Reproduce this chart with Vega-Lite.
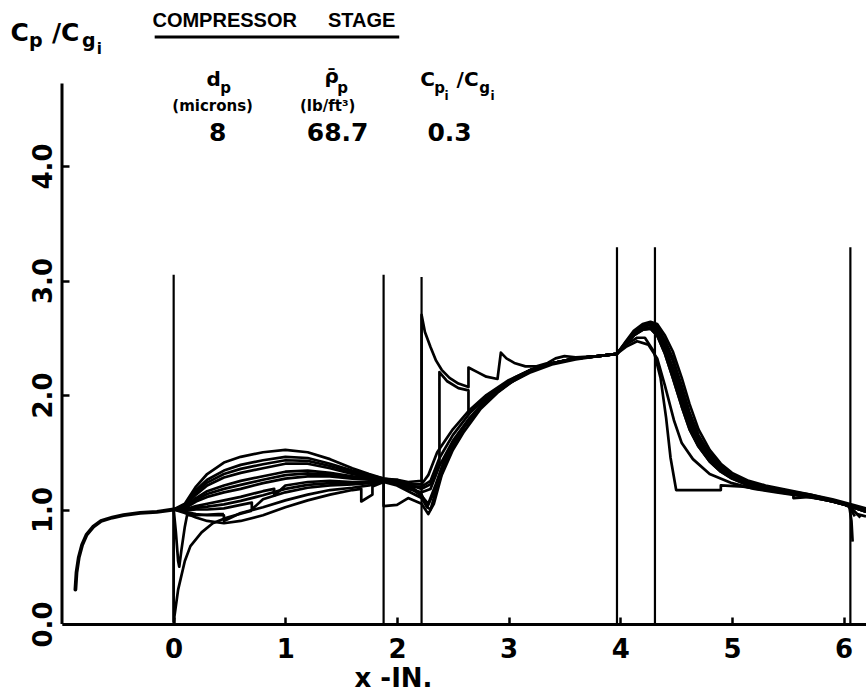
{
  "$schema": "https://vega.github.io/schema/vega-lite/v6.json",
  "width": 804,
  "height": 624,
  "autosize": {"type": "none"},
  "padding": {"left": 62, "top": 0, "right": 0, "bottom": 69},
  "background": "white",
  "config": {"view": {"stroke": null}, "font": "DejaVu Sans"},
  "datasets": {
    "stations": [
      {"x": 0, "base": 0, "top": 3.05},
      {"x": 1.88, "base": 0, "top": 3.05},
      {"x": 2.22, "base": 0, "top": 3.03},
      {"x": 3.97, "base": 0, "top": 3.29},
      {"x": 4.31, "base": 0, "top": 3.29},
      {"x": 6.06, "base": 0, "top": 3.29}
    ],
    "yaxis": [{"x": -1, "base": 0, "top": 4.72}],
    "underline": [{"x1": -0.17, "x2": 2.02, "y": 5.127}],
    "inlet": [
      {"x": -0.88, "y": 0.3}, {"x": -0.87, "y": 0.45}, {"x": -0.85, "y": 0.58}, {"x": -0.82, "y": 0.69},
      {"x": -0.78, "y": 0.78}, {"x": -0.72, "y": 0.85}, {"x": -0.65, "y": 0.9}, {"x": -0.55, "y": 0.93},
      {"x": -0.45, "y": 0.95}, {"x": -0.3, "y": 0.97}, {"x": -0.15, "y": 0.98}, {"x": 0, "y": 1.0}
    ],
    "curves": [
      {"s": "f0", "x": 0, "y": 1.0}, {"s": "f0", "x": 0.1, "y": 0.97}, {"s": "f0", "x": 0.2, "y": 0.93}, {"s": "f0", "x": 0.3, "y": 0.9},
      {"s": "f0", "x": 0.45, "y": 0.88}, {"s": "f0", "x": 0.6, "y": 0.9}, {"s": "f0", "x": 0.8, "y": 0.95}, {"s": "f0", "x": 1.0, "y": 1.02},
      {"s": "f0", "x": 1.2, "y": 1.08}, {"s": "f0", "x": 1.4, "y": 1.13}, {"s": "f0", "x": 1.6, "y": 1.17}, {"s": "f0", "x": 1.68, "y": 1.18},
      {"s": "f0", "x": 1.68, "y": 1.07}, {"s": "f0", "x": 1.78, "y": 1.13}, {"s": "f0", "x": 1.78, "y": 1.2}, {"s": "f0", "x": 1.88, "y": 1.24},
      {"s": "f0", "x": 1.88, "y": 1.03}, {"s": "f0", "x": 2.0, "y": 1.04}, {"s": "f0", "x": 2.1, "y": 1.1}, {"s": "f0", "x": 2.22, "y": 1.05},
      {"s": "f0", "x": 2.28, "y": 0.96}, {"s": "f0", "x": 2.33, "y": 1.05}, {"s": "f0", "x": 2.4, "y": 1.3}, {"s": "f0", "x": 2.5, "y": 1.52},
      {"s": "f0", "x": 2.6, "y": 1.68}, {"s": "f0", "x": 2.75, "y": 1.88}, {"s": "f0", "x": 2.9, "y": 2.02}, {"s": "f0", "x": 3.05, "y": 2.13},
      {"s": "f0", "x": 3.2, "y": 2.21}, {"s": "f0", "x": 3.4, "y": 2.28}, {"s": "f0", "x": 3.6, "y": 2.32}, {"s": "f0", "x": 3.8, "y": 2.34},
      {"s": "f0", "x": 3.97, "y": 2.36}, {"s": "f0", "x": 4.05, "y": 2.45}, {"s": "f0", "x": 4.12, "y": 2.52}, {"s": "f0", "x": 4.2, "y": 2.57},
      {"s": "f0", "x": 4.27, "y": 2.58}, {"s": "f0", "x": 4.33, "y": 2.52}, {"s": "f0", "x": 4.4, "y": 2.36}, {"s": "f0", "x": 4.47, "y": 2.15},
      {"s": "f0", "x": 4.55, "y": 1.9}, {"s": "f0", "x": 4.62, "y": 1.7}, {"s": "f0", "x": 4.7, "y": 1.55}, {"s": "f0", "x": 4.8, "y": 1.42},
      {"s": "f0", "x": 4.9, "y": 1.33}, {"s": "f0", "x": 5.0, "y": 1.27}, {"s": "f0", "x": 5.15, "y": 1.21}, {"s": "f0", "x": 5.3, "y": 1.18},
      {"s": "f0", "x": 5.5, "y": 1.15}, {"s": "f0", "x": 5.7, "y": 1.12}, {"s": "f0", "x": 5.9, "y": 1.07}, {"s": "f0", "x": 6.05, "y": 1.03},
      {"s": "f0", "x": 6.2, "y": 0.98},

      {"s": "f1", "x": 0, "y": 1.0}, {"s": "f1", "x": 0.1, "y": 0.98}, {"s": "f1", "x": 0.2, "y": 0.96}, {"s": "f1", "x": 0.3, "y": 0.95},
      {"s": "f1", "x": 0.45, "y": 0.95}, {"s": "f1", "x": 0.45, "y": 0.9}, {"s": "f1", "x": 0.6, "y": 0.97}, {"s": "f1", "x": 0.8, "y": 1.02},
      {"s": "f1", "x": 1.0, "y": 1.08}, {"s": "f1", "x": 1.2, "y": 1.13}, {"s": "f1", "x": 1.4, "y": 1.17}, {"s": "f1", "x": 1.6, "y": 1.19},
      {"s": "f1", "x": 1.75, "y": 1.21}, {"s": "f1", "x": 1.88, "y": 1.24}, {"s": "f1", "x": 2.0, "y": 1.21}, {"s": "f1", "x": 2.1, "y": 1.16},
      {"s": "f1", "x": 2.22, "y": 1.1}, {"s": "f1", "x": 2.27, "y": 1.02}, {"s": "f1", "x": 2.33, "y": 1.15}, {"s": "f1", "x": 2.4, "y": 1.36},
      {"s": "f1", "x": 2.5, "y": 1.56}, {"s": "f1", "x": 2.6, "y": 1.72}, {"s": "f1", "x": 2.75, "y": 1.9}, {"s": "f1", "x": 2.9, "y": 2.03},
      {"s": "f1", "x": 3.05, "y": 2.14}, {"s": "f1", "x": 3.2, "y": 2.22}, {"s": "f1", "x": 3.4, "y": 2.28}, {"s": "f1", "x": 3.6, "y": 2.32},
      {"s": "f1", "x": 3.8, "y": 2.34}, {"s": "f1", "x": 3.97, "y": 2.36}, {"s": "f1", "x": 4.05, "y": 2.46}, {"s": "f1", "x": 4.12, "y": 2.54},
      {"s": "f1", "x": 4.2, "y": 2.6}, {"s": "f1", "x": 4.27, "y": 2.62}, {"s": "f1", "x": 4.33, "y": 2.58}, {"s": "f1", "x": 4.4, "y": 2.45},
      {"s": "f1", "x": 4.47, "y": 2.3}, {"s": "f1", "x": 4.55, "y": 2.05}, {"s": "f1", "x": 4.62, "y": 1.82}, {"s": "f1", "x": 4.7, "y": 1.62},
      {"s": "f1", "x": 4.8, "y": 1.47}, {"s": "f1", "x": 4.9, "y": 1.36}, {"s": "f1", "x": 5.0, "y": 1.29}, {"s": "f1", "x": 5.15, "y": 1.23},
      {"s": "f1", "x": 5.3, "y": 1.19}, {"s": "f1", "x": 5.5, "y": 1.16}, {"s": "f1", "x": 5.7, "y": 1.12}, {"s": "f1", "x": 5.9, "y": 1.08},
      {"s": "f1", "x": 6.05, "y": 1.03}, {"s": "f1", "x": 6.07, "y": 0.9}, {"s": "f1", "x": 6.08, "y": 0.72},

      {"s": "f2", "x": 0, "y": 1.0}, {"s": "f2", "x": 0.1, "y": 0.99}, {"s": "f2", "x": 0.2, "y": 1.0}, {"s": "f2", "x": 0.3, "y": 1.0},
      {"s": "f2", "x": 0.45, "y": 1.01}, {"s": "f2", "x": 0.6, "y": 1.04}, {"s": "f2", "x": 0.7, "y": 1.06}, {"s": "f2", "x": 0.7, "y": 1.0},
      {"s": "f2", "x": 0.8, "y": 1.09}, {"s": "f2", "x": 1.0, "y": 1.15}, {"s": "f2", "x": 1.2, "y": 1.19}, {"s": "f2", "x": 1.4, "y": 1.21},
      {"s": "f2", "x": 1.6, "y": 1.22}, {"s": "f2", "x": 1.75, "y": 1.23}, {"s": "f2", "x": 1.88, "y": 1.25}, {"s": "f2", "x": 2.0, "y": 1.22},
      {"s": "f2", "x": 2.1, "y": 1.18}, {"s": "f2", "x": 2.22, "y": 1.15}, {"s": "f2", "x": 2.3, "y": 1.18}, {"s": "f2", "x": 2.38, "y": 1.38},
      {"s": "f2", "x": 2.5, "y": 1.6}, {"s": "f2", "x": 2.65, "y": 1.8}, {"s": "f2", "x": 2.8, "y": 1.96}, {"s": "f2", "x": 3.0, "y": 2.1},
      {"s": "f2", "x": 3.2, "y": 2.21}, {"s": "f2", "x": 3.4, "y": 2.28}, {"s": "f2", "x": 3.6, "y": 2.32}, {"s": "f2", "x": 3.8, "y": 2.34},
      {"s": "f2", "x": 3.97, "y": 2.36}, {"s": "f2", "x": 4.05, "y": 2.45}, {"s": "f2", "x": 4.12, "y": 2.52}, {"s": "f2", "x": 4.2, "y": 2.58},
      {"s": "f2", "x": 4.27, "y": 2.59}, {"s": "f2", "x": 4.33, "y": 2.54}, {"s": "f2", "x": 4.4, "y": 2.4}, {"s": "f2", "x": 4.47, "y": 2.2},
      {"s": "f2", "x": 4.55, "y": 1.95}, {"s": "f2", "x": 4.62, "y": 1.74}, {"s": "f2", "x": 4.7, "y": 1.58}, {"s": "f2", "x": 4.8, "y": 1.44},
      {"s": "f2", "x": 4.9, "y": 1.34}, {"s": "f2", "x": 5.0, "y": 1.28}, {"s": "f2", "x": 5.15, "y": 1.22}, {"s": "f2", "x": 5.3, "y": 1.18},
      {"s": "f2", "x": 5.5, "y": 1.15}, {"s": "f2", "x": 5.55, "y": 1.15}, {"s": "f2", "x": 5.55, "y": 1.1}, {"s": "f2", "x": 5.7, "y": 1.11},
      {"s": "f2", "x": 5.9, "y": 1.07}, {"s": "f2", "x": 6.05, "y": 1.03}, {"s": "f2", "x": 6.12, "y": 0.96}, {"s": "f2", "x": 6.2, "y": 0.94},

      {"s": "f3", "x": 0, "y": 1.0}, {"s": "f3", "x": 0.1, "y": 1.0}, {"s": "f3", "x": 0.2, "y": 1.03}, {"s": "f3", "x": 0.3, "y": 1.05},
      {"s": "f3", "x": 0.45, "y": 1.08}, {"s": "f3", "x": 0.6, "y": 1.11}, {"s": "f3", "x": 0.8, "y": 1.16}, {"s": "f3", "x": 0.9, "y": 1.18},
      {"s": "f3", "x": 0.9, "y": 1.12}, {"s": "f3", "x": 1.0, "y": 1.21}, {"s": "f3", "x": 1.2, "y": 1.24}, {"s": "f3", "x": 1.4, "y": 1.25},
      {"s": "f3", "x": 1.6, "y": 1.24}, {"s": "f3", "x": 1.75, "y": 1.24}, {"s": "f3", "x": 1.88, "y": 1.25}, {"s": "f3", "x": 2.0, "y": 1.23},
      {"s": "f3", "x": 2.1, "y": 1.2}, {"s": "f3", "x": 2.22, "y": 1.2}, {"s": "f3", "x": 2.3, "y": 1.25}, {"s": "f3", "x": 2.38, "y": 1.45},
      {"s": "f3", "x": 2.5, "y": 1.65}, {"s": "f3", "x": 2.65, "y": 1.84}, {"s": "f3", "x": 2.8, "y": 1.98}, {"s": "f3", "x": 3.0, "y": 2.12},
      {"s": "f3", "x": 3.2, "y": 2.22}, {"s": "f3", "x": 3.4, "y": 2.28}, {"s": "f3", "x": 3.6, "y": 2.32}, {"s": "f3", "x": 3.8, "y": 2.34},
      {"s": "f3", "x": 3.97, "y": 2.36}, {"s": "f3", "x": 4.05, "y": 2.45}, {"s": "f3", "x": 4.12, "y": 2.52}, {"s": "f3", "x": 4.2, "y": 2.57},
      {"s": "f3", "x": 4.27, "y": 2.58}, {"s": "f3", "x": 4.33, "y": 2.52}, {"s": "f3", "x": 4.4, "y": 2.36}, {"s": "f3", "x": 4.47, "y": 2.15},
      {"s": "f3", "x": 4.55, "y": 1.9}, {"s": "f3", "x": 4.62, "y": 1.7}, {"s": "f3", "x": 4.7, "y": 1.55}, {"s": "f3", "x": 4.8, "y": 1.42},
      {"s": "f3", "x": 4.9, "y": 1.33}, {"s": "f3", "x": 5.0, "y": 1.27}, {"s": "f3", "x": 5.15, "y": 1.21}, {"s": "f3", "x": 5.3, "y": 1.18},
      {"s": "f3", "x": 5.5, "y": 1.15}, {"s": "f3", "x": 5.7, "y": 1.12}, {"s": "f3", "x": 5.9, "y": 1.07}, {"s": "f3", "x": 6.05, "y": 1.03},
      {"s": "f3", "x": 6.2, "y": 0.98},

      {"s": "f4", "x": 0, "y": 1.0}, {"s": "f4", "x": 0.1, "y": 1.01}, {"s": "f4", "x": 0.2, "y": 1.07}, {"s": "f4", "x": 0.3, "y": 1.11},
      {"s": "f4", "x": 0.45, "y": 1.15}, {"s": "f4", "x": 0.6, "y": 1.18}, {"s": "f4", "x": 0.8, "y": 1.23}, {"s": "f4", "x": 1.0, "y": 1.27},
      {"s": "f4", "x": 1.2, "y": 1.29}, {"s": "f4", "x": 1.4, "y": 1.29}, {"s": "f4", "x": 1.6, "y": 1.27}, {"s": "f4", "x": 1.75, "y": 1.26},
      {"s": "f4", "x": 1.88, "y": 1.25}, {"s": "f4", "x": 2.0, "y": 1.24}, {"s": "f4", "x": 2.1, "y": 1.22}, {"s": "f4", "x": 2.22, "y": 1.22},
      {"s": "f4", "x": 2.28, "y": 1.3}, {"s": "f4", "x": 2.36, "y": 1.5}, {"s": "f4", "x": 2.5, "y": 1.7}, {"s": "f4", "x": 2.65, "y": 1.87},
      {"s": "f4", "x": 2.8, "y": 2.0}, {"s": "f4", "x": 3.0, "y": 2.13}, {"s": "f4", "x": 3.2, "y": 2.22}, {"s": "f4", "x": 3.4, "y": 2.28},
      {"s": "f4", "x": 3.6, "y": 2.32}, {"s": "f4", "x": 3.8, "y": 2.34}, {"s": "f4", "x": 3.97, "y": 2.36}, {"s": "f4", "x": 4.05, "y": 2.46},
      {"s": "f4", "x": 4.12, "y": 2.55}, {"s": "f4", "x": 4.2, "y": 2.61}, {"s": "f4", "x": 4.27, "y": 2.63}, {"s": "f4", "x": 4.33, "y": 2.6},
      {"s": "f4", "x": 4.4, "y": 2.48}, {"s": "f4", "x": 4.47, "y": 2.32}, {"s": "f4", "x": 4.55, "y": 2.08}, {"s": "f4", "x": 4.62, "y": 1.85},
      {"s": "f4", "x": 4.7, "y": 1.65}, {"s": "f4", "x": 4.8, "y": 1.49}, {"s": "f4", "x": 4.9, "y": 1.38}, {"s": "f4", "x": 5.0, "y": 1.3},
      {"s": "f4", "x": 5.15, "y": 1.24}, {"s": "f4", "x": 5.3, "y": 1.2}, {"s": "f4", "x": 5.5, "y": 1.16}, {"s": "f4", "x": 5.7, "y": 1.13},
      {"s": "f4", "x": 5.9, "y": 1.08}, {"s": "f4", "x": 6.05, "y": 1.04}, {"s": "f4", "x": 6.2, "y": 1.0},

      {"s": "f5", "x": 0, "y": 1.0}, {"s": "f5", "x": 0.1, "y": 1.02}, {"s": "f5", "x": 0.2, "y": 1.1}, {"s": "f5", "x": 0.3, "y": 1.16},
      {"s": "f5", "x": 0.45, "y": 1.21}, {"s": "f5", "x": 0.6, "y": 1.25}, {"s": "f5", "x": 0.8, "y": 1.29}, {"s": "f5", "x": 1.0, "y": 1.33},
      {"s": "f5", "x": 1.2, "y": 1.34}, {"s": "f5", "x": 1.4, "y": 1.32}, {"s": "f5", "x": 1.6, "y": 1.29}, {"s": "f5", "x": 1.75, "y": 1.27},
      {"s": "f5", "x": 1.88, "y": 1.26}, {"s": "f5", "x": 2.0, "y": 1.25}, {"s": "f5", "x": 2.1, "y": 1.2}, {"s": "f5", "x": 2.22, "y": 1.12},
      {"s": "f5", "x": 2.28, "y": 1.05}, {"s": "f5", "x": 2.34, "y": 1.2}, {"s": "f5", "x": 2.42, "y": 1.42}, {"s": "f5", "x": 2.55, "y": 1.66},
      {"s": "f5", "x": 2.7, "y": 1.85}, {"s": "f5", "x": 2.85, "y": 1.99}, {"s": "f5", "x": 3.0, "y": 2.1}, {"s": "f5", "x": 3.2, "y": 2.2},
      {"s": "f5", "x": 3.4, "y": 2.27}, {"s": "f5", "x": 3.6, "y": 2.31}, {"s": "f5", "x": 3.8, "y": 2.34}, {"s": "f5", "x": 3.97, "y": 2.36},
      {"s": "f5", "x": 4.05, "y": 2.42}, {"s": "f5", "x": 4.15, "y": 2.47}, {"s": "f5", "x": 4.25, "y": 2.44}, {"s": "f5", "x": 4.33, "y": 2.32},
      {"s": "f5", "x": 4.4, "y": 2.08}, {"s": "f5", "x": 4.48, "y": 1.78}, {"s": "f5", "x": 4.55, "y": 1.58}, {"s": "f5", "x": 4.65, "y": 1.44},
      {"s": "f5", "x": 4.8, "y": 1.31}, {"s": "f5", "x": 5.0, "y": 1.23}, {"s": "f5", "x": 5.2, "y": 1.18}, {"s": "f5", "x": 5.4, "y": 1.15},
      {"s": "f5", "x": 5.6, "y": 1.12}, {"s": "f5", "x": 5.8, "y": 1.09}, {"s": "f5", "x": 6.0, "y": 1.05}, {"s": "f5", "x": 6.05, "y": 1.02},
      {"s": "f5", "x": 6.1, "y": 0.94},

      {"s": "f6", "x": 0, "y": 1.0}, {"s": "f6", "x": 0.1, "y": 1.03}, {"s": "f6", "x": 0.2, "y": 1.13}, {"s": "f6", "x": 0.3, "y": 1.21},
      {"s": "f6", "x": 0.45, "y": 1.28}, {"s": "f6", "x": 0.6, "y": 1.32}, {"s": "f6", "x": 0.8, "y": 1.36}, {"s": "f6", "x": 1.0, "y": 1.4},
      {"s": "f6", "x": 1.2, "y": 1.4}, {"s": "f6", "x": 1.4, "y": 1.36}, {"s": "f6", "x": 1.6, "y": 1.31}, {"s": "f6", "x": 1.75, "y": 1.28},
      {"s": "f6", "x": 1.88, "y": 1.26}, {"s": "f6", "x": 2.0, "y": 1.26}, {"s": "f6", "x": 2.1, "y": 1.24}, {"s": "f6", "x": 2.22, "y": 1.25},
      {"s": "f6", "x": 2.22, "y": 2.7}, {"s": "f6", "x": 2.25, "y": 2.55}, {"s": "f6", "x": 2.3, "y": 2.42}, {"s": "f6", "x": 2.35, "y": 2.3},
      {"s": "f6", "x": 2.4, "y": 2.22}, {"s": "f6", "x": 2.47, "y": 2.15}, {"s": "f6", "x": 2.55, "y": 2.1}, {"s": "f6", "x": 2.64, "y": 2.07},
      {"s": "f6", "x": 2.64, "y": 2.24}, {"s": "f6", "x": 2.72, "y": 2.2}, {"s": "f6", "x": 2.8, "y": 2.16}, {"s": "f6", "x": 2.9, "y": 2.14},
      {"s": "f6", "x": 2.93, "y": 2.37}, {"s": "f6", "x": 2.98, "y": 2.32}, {"s": "f6", "x": 3.05, "y": 2.28}, {"s": "f6", "x": 3.15, "y": 2.25},
      {"s": "f6", "x": 3.25, "y": 2.25}, {"s": "f6", "x": 3.35, "y": 2.28}, {"s": "f6", "x": 3.42, "y": 2.32}, {"s": "f6", "x": 3.5, "y": 2.34},
      {"s": "f6", "x": 3.6, "y": 2.33}, {"s": "f6", "x": 3.8, "y": 2.34}, {"s": "f6", "x": 3.97, "y": 2.36}, {"s": "f6", "x": 4.05, "y": 2.44},
      {"s": "f6", "x": 4.15, "y": 2.5}, {"s": "f6", "x": 4.22, "y": 2.5}, {"s": "f6", "x": 4.3, "y": 2.38}, {"s": "f6", "x": 4.36, "y": 2.15},
      {"s": "f6", "x": 4.41, "y": 1.8}, {"s": "f6", "x": 4.45, "y": 1.45}, {"s": "f6", "x": 4.5, "y": 1.17}, {"s": "f6", "x": 4.7, "y": 1.17},
      {"s": "f6", "x": 4.9, "y": 1.17}, {"s": "f6", "x": 4.9, "y": 1.21}, {"s": "f6", "x": 5.1, "y": 1.2}, {"s": "f6", "x": 5.3, "y": 1.17},
      {"s": "f6", "x": 5.5, "y": 1.14}, {"s": "f6", "x": 5.7, "y": 1.11}, {"s": "f6", "x": 5.9, "y": 1.07}, {"s": "f6", "x": 6.05, "y": 1.03},
      {"s": "f6", "x": 6.2, "y": 0.98},

      {"s": "f7", "x": 0, "y": 1.0}, {"s": "f7", "x": 0.1, "y": 1.04}, {"s": "f7", "x": 0.2, "y": 1.17}, {"s": "f7", "x": 0.3, "y": 1.26},
      {"s": "f7", "x": 0.45, "y": 1.34}, {"s": "f7", "x": 0.6, "y": 1.39}, {"s": "f7", "x": 0.8, "y": 1.43}, {"s": "f7", "x": 1.0, "y": 1.46},
      {"s": "f7", "x": 1.2, "y": 1.45}, {"s": "f7", "x": 1.4, "y": 1.4}, {"s": "f7", "x": 1.6, "y": 1.34}, {"s": "f7", "x": 1.75, "y": 1.3},
      {"s": "f7", "x": 1.88, "y": 1.27}, {"s": "f7", "x": 2.0, "y": 1.25}, {"s": "f7", "x": 2.1, "y": 1.22}, {"s": "f7", "x": 2.22, "y": 1.18},
      {"s": "f7", "x": 2.3, "y": 1.22}, {"s": "f7", "x": 2.38, "y": 1.4}, {"s": "f7", "x": 2.38, "y": 2.2}, {"s": "f7", "x": 2.45, "y": 2.12},
      {"s": "f7", "x": 2.55, "y": 2.06}, {"s": "f7", "x": 2.64, "y": 2.04}, {"s": "f7", "x": 2.64, "y": 1.84}, {"s": "f7", "x": 2.75, "y": 1.93},
      {"s": "f7", "x": 2.9, "y": 2.05}, {"s": "f7", "x": 3.05, "y": 2.15}, {"s": "f7", "x": 3.2, "y": 2.22}, {"s": "f7", "x": 3.4, "y": 2.28},
      {"s": "f7", "x": 3.6, "y": 2.32}, {"s": "f7", "x": 3.8, "y": 2.34}, {"s": "f7", "x": 3.97, "y": 2.36}, {"s": "f7", "x": 4.05, "y": 2.46},
      {"s": "f7", "x": 4.12, "y": 2.54}, {"s": "f7", "x": 4.2, "y": 2.6}, {"s": "f7", "x": 4.27, "y": 2.61}, {"s": "f7", "x": 4.33, "y": 2.56},
      {"s": "f7", "x": 4.4, "y": 2.42}, {"s": "f7", "x": 4.47, "y": 2.24}, {"s": "f7", "x": 4.55, "y": 2.0}, {"s": "f7", "x": 4.62, "y": 1.78},
      {"s": "f7", "x": 4.7, "y": 1.6}, {"s": "f7", "x": 4.8, "y": 1.45}, {"s": "f7", "x": 4.9, "y": 1.35}, {"s": "f7", "x": 5.0, "y": 1.28},
      {"s": "f7", "x": 5.15, "y": 1.22}, {"s": "f7", "x": 5.3, "y": 1.19}, {"s": "f7", "x": 5.5, "y": 1.16}, {"s": "f7", "x": 5.7, "y": 1.12},
      {"s": "f7", "x": 5.9, "y": 1.08}, {"s": "f7", "x": 6.05, "y": 1.03}, {"s": "f7", "x": 6.15, "y": 0.93},

      {"s": "f8", "x": 0, "y": 1.0}, {"s": "f8", "x": 0.1, "y": 1.05}, {"s": "f8", "x": 0.2, "y": 1.2}, {"s": "f8", "x": 0.3, "y": 1.31},
      {"s": "f8", "x": 0.45, "y": 1.41}, {"s": "f8", "x": 0.6, "y": 1.46}, {"s": "f8", "x": 0.8, "y": 1.5}, {"s": "f8", "x": 1.0, "y": 1.52},
      {"s": "f8", "x": 1.2, "y": 1.5}, {"s": "f8", "x": 1.4, "y": 1.44}, {"s": "f8", "x": 1.6, "y": 1.36}, {"s": "f8", "x": 1.75, "y": 1.31},
      {"s": "f8", "x": 1.88, "y": 1.27}, {"s": "f8", "x": 2.0, "y": 1.26}, {"s": "f8", "x": 2.1, "y": 1.22}, {"s": "f8", "x": 2.22, "y": 1.13},
      {"s": "f8", "x": 2.27, "y": 1.02}, {"s": "f8", "x": 2.3, "y": 1.0}, {"s": "f8", "x": 2.36, "y": 1.2}, {"s": "f8", "x": 2.45, "y": 1.45},
      {"s": "f8", "x": 2.6, "y": 1.72}, {"s": "f8", "x": 2.75, "y": 1.9}, {"s": "f8", "x": 2.9, "y": 2.03}, {"s": "f8", "x": 3.05, "y": 2.14},
      {"s": "f8", "x": 3.2, "y": 2.22}, {"s": "f8", "x": 3.4, "y": 2.28}, {"s": "f8", "x": 3.6, "y": 2.32}, {"s": "f8", "x": 3.8, "y": 2.34},
      {"s": "f8", "x": 3.97, "y": 2.36}, {"s": "f8", "x": 4.05, "y": 2.47}, {"s": "f8", "x": 4.12, "y": 2.56}, {"s": "f8", "x": 4.2, "y": 2.62},
      {"s": "f8", "x": 4.27, "y": 2.64}, {"s": "f8", "x": 4.33, "y": 2.62}, {"s": "f8", "x": 4.4, "y": 2.52}, {"s": "f8", "x": 4.47, "y": 2.38},
      {"s": "f8", "x": 4.55, "y": 2.15}, {"s": "f8", "x": 4.62, "y": 1.92}, {"s": "f8", "x": 4.7, "y": 1.7}, {"s": "f8", "x": 4.8, "y": 1.52},
      {"s": "f8", "x": 4.9, "y": 1.4}, {"s": "f8", "x": 5.0, "y": 1.32}, {"s": "f8", "x": 5.15, "y": 1.25}, {"s": "f8", "x": 5.3, "y": 1.21},
      {"s": "f8", "x": 5.5, "y": 1.17}, {"s": "f8", "x": 5.7, "y": 1.13}, {"s": "f8", "x": 5.9, "y": 1.09}, {"s": "f8", "x": 6.05, "y": 1.05},
      {"s": "f8", "x": 6.2, "y": 1.01},

      {"s": "g1", "x": 0, "y": 1.0}, {"s": "g1", "x": 0.1, "y": 1.015}, {"s": "g1", "x": 0.2, "y": 1.085}, {"s": "g1", "x": 0.3, "y": 1.135},
      {"s": "g1", "x": 0.45, "y": 1.18}, {"s": "g1", "x": 0.6, "y": 1.215}, {"s": "g1", "x": 0.8, "y": 1.26}, {"s": "g1", "x": 1.0, "y": 1.3},
      {"s": "g1", "x": 1.2, "y": 1.315}, {"s": "g1", "x": 1.4, "y": 1.305}, {"s": "g1", "x": 1.6, "y": 1.28}, {"s": "g1", "x": 1.75, "y": 1.265},
      {"s": "g1", "x": 1.88, "y": 1.255},
      {"s": "g2", "x": 0, "y": 1.0}, {"s": "g2", "x": 0.1, "y": 1.035}, {"s": "g2", "x": 0.2, "y": 1.15}, {"s": "g2", "x": 0.3, "y": 1.235},
      {"s": "g2", "x": 0.45, "y": 1.31}, {"s": "g2", "x": 0.6, "y": 1.355}, {"s": "g2", "x": 0.8, "y": 1.395}, {"s": "g2", "x": 1.0, "y": 1.43},
      {"s": "g2", "x": 1.2, "y": 1.425}, {"s": "g2", "x": 1.4, "y": 1.38}, {"s": "g2", "x": 1.6, "y": 1.325}, {"s": "g2", "x": 1.75, "y": 1.29},
      {"s": "g2", "x": 1.88, "y": 1.265},
      {"s": "g3", "x": 0, "y": 1.0}, {"s": "g3", "x": 0.1, "y": 0.995}, {"s": "g3", "x": 0.2, "y": 1.015}, {"s": "g3", "x": 0.3, "y": 1.025},
      {"s": "g3", "x": 0.45, "y": 1.045}, {"s": "g3", "x": 0.6, "y": 1.075}, {"s": "g3", "x": 0.8, "y": 1.125}, {"s": "g3", "x": 1.0, "y": 1.18},
      {"s": "g3", "x": 1.2, "y": 1.215}, {"s": "g3", "x": 1.4, "y": 1.23}, {"s": "g3", "x": 1.6, "y": 1.23}, {"s": "g3", "x": 1.75, "y": 1.235},
      {"s": "g3", "x": 1.88, "y": 1.25},

      {"s": "d1", "x": 0, "y": 1.0}, {"s": "d1", "x": 0.02, "y": 0.8}, {"s": "d1", "x": 0.04, "y": 0.55}, {"s": "d1", "x": 0.05, "y": 0.5},
      {"s": "d1", "x": 0.07, "y": 0.65}, {"s": "d1", "x": 0.1, "y": 0.85}, {"s": "d1", "x": 0.12, "y": 0.95}, {"s": "d1", "x": 0.2, "y": 0.95},
      {"s": "d1", "x": 0.4, "y": 0.96}, {"s": "d1", "x": 0.45, "y": 0.96},
      {"s": "d2", "x": 0, "y": 1.0}, {"s": "d2", "x": 0, "y": 0.02}, {"s": "d2", "x": 0.04, "y": 0.3}, {"s": "d2", "x": 0.1, "y": 0.55},
      {"s": "d2", "x": 0.15, "y": 0.68}, {"s": "d2", "x": 0.25, "y": 0.8}, {"s": "d2", "x": 0.35, "y": 0.88}, {"s": "d2", "x": 0.45, "y": 0.92},
      {"s": "d2", "x": 0.55, "y": 0.95}, {"s": "d2", "x": 0.7, "y": 0.99}
    ],
    "labels": [
      {"role": "head", "t": "COMPRESSOR", "x": 0.457, "y": 5.27},
      {"role": "head", "t": "STAGE", "x": 1.683, "y": 5.27},
      {"role": "yt", "t": "C", "x": -1.379, "y": 5.162},
      {"role": "yts", "t": "p", "x": -1.235, "y": 5.092},
      {"role": "yt", "t": "/C", "x": -0.967, "y": 5.162},
      {"role": "yts", "t": "g", "x": -0.761, "y": 5.092},
      {"role": "sub", "t": "i", "x": -0.665, "y": 5.02},
      {"role": "sym", "t": "d", "x": 0.358, "y": 4.751},
      {"role": "sub", "t": "p", "x": 0.466, "y": 4.681},
      {"role": "sym", "t": "ρ̄", "x": 1.415, "y": 4.777},
      {"role": "sub", "t": "p", "x": 1.513, "y": 4.681},
      {"role": "sym", "t": "C", "x": 2.274, "y": 4.751},
      {"role": "sub", "t": "p", "x": 2.381, "y": 4.681},
      {"role": "tiny", "t": "i", "x": 2.444, "y": 4.611},
      {"role": "sym", "t": "/C", "x": 2.632, "y": 4.751},
      {"role": "sub", "t": "g", "x": 2.784, "y": 4.681},
      {"role": "tiny", "t": "i", "x": 2.856, "y": 4.611},
      {"role": "unit", "t": "(microns)", "x": 0.349, "y": 4.524},
      {"role": "unit", "t": "(lb/ft³)", "x": 1.379, "y": 4.524},
      {"role": "val", "t": "8", "x": 0.394, "y": 4.288},
      {"role": "val", "t": "68.7", "x": 1.468, "y": 4.288},
      {"role": "val", "t": "0.3", "x": 2.471, "y": 4.288}
    ]
  },
  "layer": [
    {
      "data": {"name": "stations"},
      "mark": {"type": "rule", "color": "black", "strokeWidth": 2.2},
      "encoding": {
        "x": {
          "field": "x", "type": "quantitative",
          "scale": {"domain": [-1, 6.2], "nice": false, "zero": false},
          "axis": {
            "values": [0, 1, 2, 3, 4, 5, 6], "format": "d", "grid": false,
            "domainColor": "black", "domainWidth": 3, "tickColor": "black", "tickWidth": 2.5, "tickSize": -7,
            "labelFontSize": 26, "labelFontWeight": "bold", "labelColor": "black", "labelPadding": 19,
            "labelFlush": false, "labelOverlap": false,
            "title": "x -IN.", "titleFontSize": 26, "titleFontWeight": "bold", "titleColor": "black",
            "titleX": 331, "titleY": 62, "titleBaseline": "alphabetic", "titleAlign": "center"
          }
        },
        "y": {
          "field": "base", "type": "quantitative",
          "scale": {"domain": [0, 5.45], "nice": false, "zero": false},
          "axis": {
            "values": [0, 1, 2, 3, 4], "format": ".1f", "grid": false, "domain": false,
            "tickColor": "black", "tickWidth": 2.5, "tickSize": -7,
            "labelAngle": 270, "labelAlign": "center", "labelBaseline": "bottom",
            "labelFontSize": 26, "labelFontWeight": "bold", "labelColor": "black", "labelPadding": 13,
            "labelFlush": false, "labelOverlap": false, "title": null
          }
        },
        "y2": {"field": "top"}
      }
    },
    {
      "data": {"name": "yaxis"},
      "mark": {"type": "rule", "color": "black", "strokeWidth": 3},
      "encoding": {
        "x": {"field": "x", "type": "quantitative"},
        "y": {"field": "base", "type": "quantitative"},
        "y2": {"field": "top"}
      }
    },
    {
      "data": {"name": "curves"},
      "mark": {"type": "line", "color": "black", "strokeWidth": 2.7, "strokeJoin": "round"},
      "encoding": {
        "x": {"field": "x", "type": "quantitative"},
        "y": {"field": "y", "type": "quantitative"},
        "detail": {"field": "s", "type": "nominal"}
      }
    },
    {
      "data": {"name": "inlet"},
      "mark": {"type": "line", "color": "black", "strokeWidth": 3.8, "strokeCap": "round"},
      "encoding": {
        "x": {"field": "x", "type": "quantitative"},
        "y": {"field": "y", "type": "quantitative"}
      }
    },
    {
      "data": {"name": "underline"},
      "mark": {"type": "rule", "color": "black", "strokeWidth": 3},
      "encoding": {
        "x": {"field": "x1", "type": "quantitative"},
        "x2": {"field": "x2"},
        "y": {"field": "y", "type": "quantitative"}
      }
    },
    {
      "data": {"name": "labels"},
      "transform": [{"filter": "datum.role == 'head'"}],
      "mark": {"type": "text", "font": "Liberation Sans", "fontWeight": "bold", "fontSize": 20, "align": "center", "baseline": "middle", "color": "black"},
      "encoding": {
        "x": {"field": "x", "type": "quantitative"},
        "y": {"field": "y", "type": "quantitative"},
        "text": {"field": "t"}
      }
    },
    {
      "data": {"name": "labels"},
      "transform": [{"filter": "datum.role == 'yt'"}],
      "mark": {"type": "text", "fontWeight": "bold", "fontSize": 25, "align": "center", "baseline": "middle", "color": "black"},
      "encoding": {
        "x": {"field": "x", "type": "quantitative"},
        "y": {"field": "y", "type": "quantitative"},
        "text": {"field": "t"}
      }
    },
    {
      "data": {"name": "labels"},
      "transform": [{"filter": "datum.role == 'yts'"}],
      "mark": {"type": "text", "fontWeight": "bold", "fontSize": 19, "align": "center", "baseline": "middle", "color": "black"},
      "encoding": {
        "x": {"field": "x", "type": "quantitative"},
        "y": {"field": "y", "type": "quantitative"},
        "text": {"field": "t"}
      }
    },
    {
      "data": {"name": "labels"},
      "transform": [{"filter": "datum.role == 'sym'"}],
      "mark": {"type": "text", "fontWeight": "bold", "fontSize": 20, "align": "center", "baseline": "middle", "color": "black"},
      "encoding": {
        "x": {"field": "x", "type": "quantitative"},
        "y": {"field": "y", "type": "quantitative"},
        "text": {"field": "t"}
      }
    },
    {
      "data": {"name": "labels"},
      "transform": [{"filter": "datum.role == 'sub'"}],
      "mark": {"type": "text", "fontWeight": "bold", "fontSize": 15, "align": "center", "baseline": "middle", "color": "black"},
      "encoding": {
        "x": {"field": "x", "type": "quantitative"},
        "y": {"field": "y", "type": "quantitative"},
        "text": {"field": "t"}
      }
    },
    {
      "data": {"name": "labels"},
      "transform": [{"filter": "datum.role == 'tiny'"}],
      "mark": {"type": "text", "fontWeight": "bold", "fontSize": 12, "align": "center", "baseline": "middle", "color": "black"},
      "encoding": {
        "x": {"field": "x", "type": "quantitative"},
        "y": {"field": "y", "type": "quantitative"},
        "text": {"field": "t"}
      }
    },
    {
      "data": {"name": "labels"},
      "transform": [{"filter": "datum.role == 'unit'"}],
      "mark": {"type": "text", "fontWeight": "bold", "fontSize": 15, "align": "center", "baseline": "middle", "color": "black"},
      "encoding": {
        "x": {"field": "x", "type": "quantitative"},
        "y": {"field": "y", "type": "quantitative"},
        "text": {"field": "t"}
      }
    },
    {
      "data": {"name": "labels"},
      "transform": [{"filter": "datum.role == 'val'"}],
      "mark": {"type": "text", "fontWeight": "bold", "fontSize": 25, "align": "center", "baseline": "middle", "color": "black"},
      "encoding": {
        "x": {"field": "x", "type": "quantitative"},
        "y": {"field": "y", "type": "quantitative"},
        "text": {"field": "t"}
      }
    }
  ]
}
